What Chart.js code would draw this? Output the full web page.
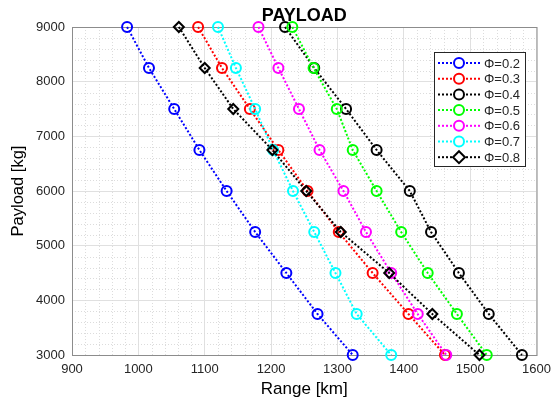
<!DOCTYPE html>
<html>
<head>
<meta charset="utf-8">
<script src="https://cdn.jsdelivr.net/npm/chart.js@4/dist/chart.umd.min.js"></script>
<style>
  html, body { margin: 0; padding: 0; background: #fff; }
  #wrap { width: 558px; height: 400px; }
</style>
</head>
<body>
<div id="wrap"><canvas id="payload"></canvas></div>
<script>
// payload levels (kg), one per marker
const payload = [9000, 8250, 7500, 6750, 6000, 5250, 4500, 3750, 3000]

// range (km) read per phi
const range02 = [983, 1016, 1054, 1092, 1133, 1176, 1223, 1270, 1323]
const range03 = [1090, 1126, 1168, 1211, 1255, 1302, 1353, 1407, 1462]
const range04 = [1221, 1265, 1313, 1359, 1409, 1441, 1483, 1528, 1578]
const range05 = [1232, 1264, 1299, 1323, 1359, 1396, 1436, 1480, 1525]
const range06 = [1181, 1211, 1242, 1273, 1309, 1343, 1381, 1421, 1464]
const range07 = [1120, 1147, 1176, 1203, 1233, 1265, 1297, 1329, 1381]
const range08 = [1061, 1100, 1143, 1202, 1253, 1305, 1378, 1443, 1514]

const phiLabels = ['\u03A6=0.2', '\u03A6=0.3', '\u03A6=0.4', '\u03A6=0.5', '\u03A6=0.6', '\u03A6=0.7', '\u03A6=0.8']
const seriesColors = ['#0000ff', '#ff0000', '#000000', '#00ff00', '#ff00ff', '#00ffff', '#000000']
const seriesMarkers = ['circle', 'circle', 'circle', 'circle', 'circle', 'circle', 'rectRot']
const allRanges = [range02, range03, range04, range05, range06, range07, range08]

const FONT = 'Liberation Sans, Arial, sans-serif'

let datasets = allRanges.map((r, i) => {
  return {
    label: phiLabels[i],
    data: r.map((x, j) => ({ x: x, y: payload[j] })),
    borderColor: seriesColors[i],
    backgroundColor: 'rgba(0,0,0,0)',
    borderWidth: 2,
    borderDash: [2, 2],
    pointStyle: seriesMarkers[i],
    pointRadius: 5,
    pointBorderWidth: 2,
    pointBackgroundColor: 'rgba(255,255,255,0)',
    pointBorderColor: seriesColors[i],
    showLine: true,
    clip: false,
    // later series on top, like the original
    order: allRanges.length - i
  }
})

// minor dotted grid + axes box
const minorGrid = {
  id: 'minorGrid',
  beforeDatasetsDraw(chart) {
    const ctx = chart.ctx
    const a = chart.chartArea
    const xs = chart.scales.x
    const ys = chart.scales.y
    ctx.save()
    ctx.strokeStyle = '#dcdcdc'
    ctx.lineWidth = 1
    ctx.setLineDash([1, 2])
    for (let v = 920; v < 1600; v += 20) {
      if (v % 100 === 0) continue
      let px = Math.round(xs.getPixelForValue(v)) + 0.5
      ctx.beginPath(); ctx.moveTo(px, a.top); ctx.lineTo(px, a.bottom); ctx.stroke()
    }
    for (let v = 3200; v < 9000; v += 200) {
      if (v % 1000 === 0) continue
      let py = Math.round(ys.getPixelForValue(v)) + 0.5
      ctx.beginPath(); ctx.moveTo(a.left, py); ctx.lineTo(a.right, py); ctx.stroke()
    }
    ctx.setLineDash([])
    ctx.strokeStyle = '#8c8c8c'
    ctx.strokeRect(a.left + 0.5, a.top + 0.5, a.right - a.left, a.bottom - a.top)
    ctx.restore()
  }
}

// legend box inside plot, MATLAB style (line + marker + text)
const boxLegend = {
  id: 'boxLegend',
  afterDatasetsDraw(chart) {
    const ctx = chart.ctx
    const left = 434, top = 52, w = 91, h = 114
    const mx = 459
    ctx.save()
    ctx.fillStyle = '#fff'
    ctx.fillRect(left, top, w, h)
    ctx.strokeStyle = '#262626'
    ctx.lineWidth = 1
    ctx.strokeRect(left + 0.5, top + 0.5, w, h)
    chart.data.datasets.forEach((ds, i) => {
      let cy = top + 11 + i * 15.7
      ctx.strokeStyle = ds.borderColor
      ctx.lineWidth = 2
      ctx.setLineDash([2, 2])
      ctx.beginPath(); ctx.moveTo(438, cy); ctx.lineTo(480, cy); ctx.stroke()
      ctx.setLineDash([])
      ctx.fillStyle = '#fff'
      ctx.beginPath()
      if (ds.pointStyle === 'rectRot') {
        ctx.moveTo(mx, cy - 6); ctx.lineTo(mx + 6, cy); ctx.lineTo(mx, cy + 6); ctx.lineTo(mx - 6, cy); ctx.closePath()
      } else {
        ctx.arc(mx, cy, 5, 0, Math.PI * 2)
      }
      ctx.fill()
      ctx.stroke()
      ctx.fillStyle = '#262626'
      ctx.font = '13px ' + FONT
      ctx.textBaseline = 'middle'
      ctx.fillText(ds.label, 484, cy + 1)
    })
    ctx.restore()
  }
}

new Chart(document.getElementById('payload'), {
  type: 'scatter',
  data: { datasets: datasets },
  plugins: [minorGrid, boxLegend],
  options: {
    responsive: true,
    maintainAspectRatio: false,
    animation: false,
    layout: { padding: { left: 0, right: 19, top: 0, bottom: 0 } },
    plugins: {
      legend: { display: false },
      tooltip: { enabled: false },
      title: {
        display: true,
        text: 'PAYLOAD',
        fullSize: false,
        color: '#000',
        font: { family: FONT, size: 18, weight: 'bold' },
        padding: { top: 5, bottom: 0.4 }
      }
    },
    scales: {
      x: {
        type: 'linear',
        min: 900,
        max: 1600,
        afterFit: scale => { scale.height = 45 },
        ticks: {
          stepSize: 100,
          color: '#262626',
          padding: 7,
          font: { family: FONT, size: 13 },
          callback: v => String(v)
        },
        grid: { color: '#e0e0e0', drawTicks: false },
        border: { color: '#8c8c8c' },
        title: {
          display: true,
          text: 'Range [km]',
          color: '#000',
          font: { family: FONT, size: 17 },
          padding: { top: 0, bottom: 0 }
        }
      },
      y: {
        type: 'linear',
        min: 3000,
        max: 9000,
        afterFit: scale => { scale.width = 72 },
        ticks: {
          stepSize: 1000,
          color: '#262626',
          padding: 7,
          font: { family: FONT, size: 13 },
          callback: v => String(v)
        },
        grid: { color: '#e0e0e0', drawTicks: false },
        border: { color: '#8c8c8c' },
        title: {
          display: true,
          text: 'Payload [kg]',
          color: '#000',
          font: { family: FONT, size: 16.5 },
          padding: { top: 9, bottom: 0 }
        }
      }
    }
  }
})
</script>
</body>
</html>
